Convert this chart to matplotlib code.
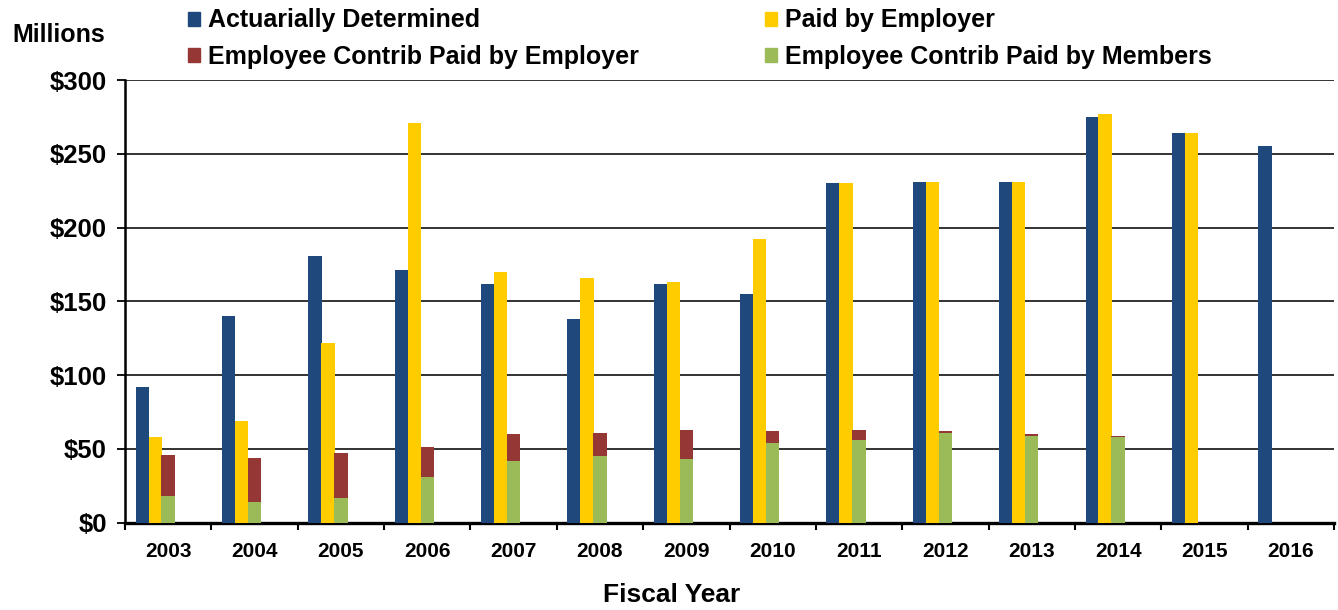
import numpy as np
import matplotlib
matplotlib.use('Agg')
import matplotlib.pyplot as plt
from matplotlib.patches import Patch

# Data (millions of dollars)
years = ['2003', '2004', '2005', '2006', '2007', '2008', '2009',
         '2010', '2011', '2012', '2013', '2014', '2015', '2016']
actuarial = [92, 140, 181, 171, 162, 138, 162, 155, 230, 231, 231, 275, 264, 255]
paid_by_employer = [58, 69, 122, 271, 170, 166, 163, 192, 230, 231, 231, 277, 264, 0]
contrib_members = [18, 14, 17, 31, 42, 45, 43, 54, 56, 61, 59, 58, 0, 0]
contrib_employer = [28, 30, 30, 20, 18, 16, 20, 8, 7, 1, 1, 1, 0, 0]

c_blue = '#1F497D'
c_yellow = '#FFCC00'
c_red = '#953735'
c_green = '#9BBB59'

plt.rcParams['font.family'] = ['Liberation Sans', 'DejaVu Sans']
plt.rcParams['font.weight'] = 'bold'

fig = plt.figure(figsize=(13.38, 6.10), dpi=100)
ax = fig.add_axes([125 / 1338, 1 - 522.7 / 610, (1334 - 125) / 1338, (522.7 - 80) / 610])

x = np.arange(len(years))
w = 0.155
ax.bar(x - 0.30, actuarial, w, color=c_blue, zorder=3)
ax.bar(x - 0.15, paid_by_employer, w, color=c_yellow, zorder=3)
ax.bar(x, contrib_members, w, color=c_green, zorder=3)
ax.bar(x, contrib_employer, w, bottom=contrib_members, color=c_red, zorder=3)

ax.set_xlim(-0.5, len(years) - 0.5)
ax.set_ylim(0, 300)
ax.set_yticks(np.arange(0, 301, 50))
ax.set_yticklabels(['$%d' % v for v in range(0, 301, 50)], fontsize=18.5, fontweight='bold')
ax.yaxis.grid(True, color='#333333', linewidth=1.4, zorder=0)
ax.set_axisbelow(True)

ax.set_xticks(x)
ax.set_xticklabels(years, fontsize=15, fontweight='bold')
ax.set_xticks(np.arange(-0.5, len(years)), minor=True)
ax.tick_params(axis='x', which='major', length=0, pad=14)
ax.tick_params(axis='x', which='minor', length=5, width=1.5, direction='out')
ax.tick_params(axis='y', length=6, width=1.3, pad=7)

for side in ['top', 'right']:
    ax.spines[side].set_visible(False)
ax.spines['left'].set_linewidth(1.8)
ax.spines['bottom'].set_linewidth(2.4)

fig.text(672 / 1338, 1 - 595 / 610, 'Fiscal Year', fontsize=19, fontweight='bold',
         ha='center', va='center')
fig.text(12 / 1338, 1 - 35 / 610, 'Millions', fontsize=18, fontweight='bold',
         ha='left', va='center')

handles = [Patch(color=c_blue, label='Actuarially Determined'),
           Patch(color=c_red, label='Employee Contrib Paid by Employer'),
           Patch(color=c_yellow, label='Paid by Employer'),
           Patch(color=c_green, label='Employee Contrib Paid by Members')]
fig.legend(handles=handles, ncol=2, loc='upper left',
           bbox_to_anchor=(165 / 1338, 1 + 14 / 610), frameon=False,
           prop={'size': 18, 'weight': 'bold'}, handlelength=0.5, handleheight=0.5,
           handletextpad=0.3, columnspacing=5.05, labelspacing=0.5)

fig.savefig('out.png', dpi=100)
